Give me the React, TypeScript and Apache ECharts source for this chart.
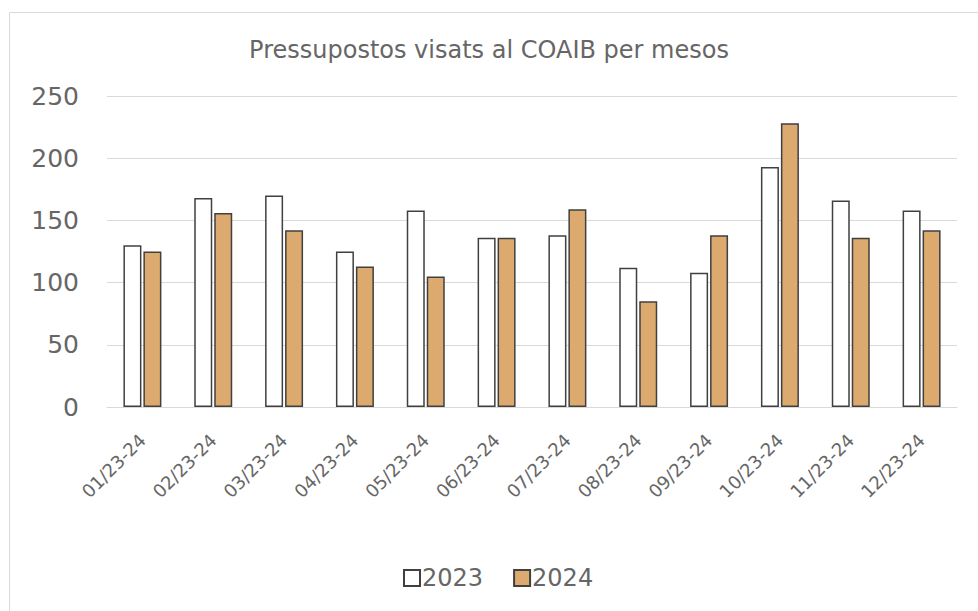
import React, { useEffect, useRef } from "react";
import * as echarts from "echarts";

const categories = ["01/23-24", "02/23-24", "03/23-24", "04/23-24", "05/23-24", "06/23-24", "07/23-24", "08/23-24", "09/23-24", "10/23-24", "11/23-24", "12/23-24"];
const values2023 = [130, 168, 170, 125, 158, 136, 138, 112, 108, 193, 166, 158];
const values2024 = [125, 156, 142, 113, 105, 136, 159, 85, 138, 228, 136, 142];
const seriesNames = ["2023", "2024"];
const titleText = "Pressupostos visats al COAIB per mesos";

const FONT = "DejaVu Sans";
const TEXT = "#666666";

export default function App() {
  const ref = useRef<HTMLDivElement>(null);
  useEffect(() => {
    if (!ref.current) return;
    const chart = echarts.init(ref.current, null, { renderer: "svg" });
    chart.setOption({
      animation: false,
      backgroundColor: "#ffffff",
      textStyle: { fontFamily: FONT },
      title: {
        text: titleText,
        left: "center",
        top: 33,
        textStyle: { fontFamily: FONT, fontSize: 24, fontWeight: "normal", color: TEXT },
      },
      graphic: [
        {
          type: "rect",
          left: 7,
          top: 10,
          shape: { x: 0, y: 0, width: 990, height: 620 },
          style: { fill: "none", stroke: "#d9d9d9", lineWidth: 1 },
          silent: true,
        },
      ],
      legend: {
        data: seriesNames,
        bottom: 16,
        left: 398,
        icon: "rect",
        itemWidth: 16,
        itemHeight: 16,
        itemGap: 30,
        textStyle: { fontFamily: FONT, fontSize: 24, color: TEXT, padding: [0, 0, 0, -3] },
      },
      grid: { left: 107, right: 21, top: 96, bottom: 204, containLabel: false },
      xAxis: {
        type: "category",
        data: categories,
        axisLine: { show: true, lineStyle: { color: "#d9d9d9", width: 1 } },
        axisTick: { show: false },
        axisLabel: { rotate: 45, fontFamily: FONT, fontSize: 18, color: TEXT, margin: 30, interval: 0 },
      },
      yAxis: {
        type: "value",
        min: 0,
        max: 250,
        interval: 50,
        axisLine: { show: false },
        axisTick: { show: false },
        splitLine: { lineStyle: { color: "#d9d9d9", width: 1 } },
        axisLabel: { fontFamily: FONT, fontSize: 25, color: TEXT, margin: 28 },
      },
      series: [
        {
          name: seriesNames[0],
          type: "bar",
          data: values2023,
          barWidth: 18,
          barGap: "11%",
          itemStyle: { color: "#ffffff", borderColor: "#404040", borderWidth: 1.5 },
        },
        {
          name: seriesNames[1],
          type: "bar",
          data: values2024,
          barWidth: 18,
          itemStyle: { color: "#dcaa6e", borderColor: "#404040", borderWidth: 1.5 },
        },
      ],
    });
    return () => chart.dispose();
  }, []);
  return <div ref={ref} style={{ position: "absolute", left: 0, top: 0, width: 978, height: 611 }} />;
}
